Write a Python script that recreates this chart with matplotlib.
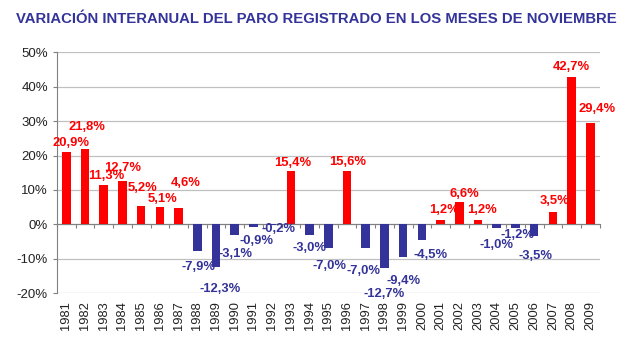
import matplotlib.pyplot as plt

plt.rcParams['font.family'] = ['Liberation Sans', 'DejaVu Sans']

years = [str(y) for y in range(1981, 2010)]
variation = [20.9, 21.8, 11.3, 12.7, 5.2, 5.1, 4.6, -7.9, -12.3, -3.1,
             -0.9, -0.2, 15.4, -3.0, -7.0, 15.6, -7.0, -12.7, -9.4, -4.5,
             1.2, 6.6, 1.2, -1.0, -1.2, -3.5, 3.5, 42.7, 29.4]

# hand placed label nudges (pixels) as in the original
label_dx = [5, 2, 3, 0, 1, 3, 7, 1, 4, 1, 3, 6, 2, 0, 1, 1, -2, 0, 0, 9,
            3, 5, 4, 0, 2, 1, 2, 0, 7]
label_dy = [9, 22, 9, 13, 18, 8, 25, -16, -22, -19, -14, -4, 8, -13, -18, 9,
            -23, -26, -24, -15, 10, 8, 10, -17, -7, -20, 11, 10, 14]

RED = '#ff0000'
BLUE = '#333399'

fig = plt.figure(figsize=(6.4, 3.4), dpi=100)
ax = fig.add_axes([0.089, 0.138, 0.848, 0.708])

x = list(range(len(years)))
colors = [RED if v >= 0 else BLUE for v in variation]
ax.bar(x, variation, width=0.46, color=colors, zorder=3)

for i, v in enumerate(variation):
    ax.annotate(f"{v:.1f}%".replace('.', ','), xy=(i, v),
                xytext=(label_dx[i], label_dy[i]), textcoords='offset pixels',
                ha='center', va='center', fontsize=9.4, fontweight='bold',
                color=colors[i], zorder=4)

ax.set_xlim(-0.5, len(years) - 0.5)
ax.set_ylim(-20, 50)
ax.set_yticks(range(-20, 51, 10))
ax.set_yticklabels([f"{t}%" for t in range(-20, 51, 10)])
ax.yaxis.grid(True, color='#c0c0c0', linewidth=0.9, zorder=0)
ax.tick_params(axis='y', labelsize=9.5, length=3, color='#808080', labelcolor='#222222')

for s in ['top', 'right']:
    ax.spines[s].set_visible(False)
ax.spines['left'].set_color('#808080')
ax.spines['bottom'].set_position(('data', 0))
ax.spines['bottom'].set_color('#808080')
ax.set_xticks([i - 0.5 for i in range(len(years) + 1)])
ax.set_xticklabels([])
ax.tick_params(axis='x', length=3, color='#808080')

sec = ax.secondary_xaxis('bottom')
sec.set_xticks(x)
sec.set_xticklabels(years, rotation=90)
sec.tick_params(length=0, labelsize=9.3, labelcolor='#222222', pad=6)
sec.spines['bottom'].set_visible(False)

fig.text(0.025, 0.945, 'VARIACIÓN INTERANUAL DEL PARO REGISTRADO EN LOS MESES DE NOVIEMBRE',
         fontsize=10.7, fontweight='bold', color=BLUE, ha='left', va='center')

fig.savefig('out.png', dpi=100)
